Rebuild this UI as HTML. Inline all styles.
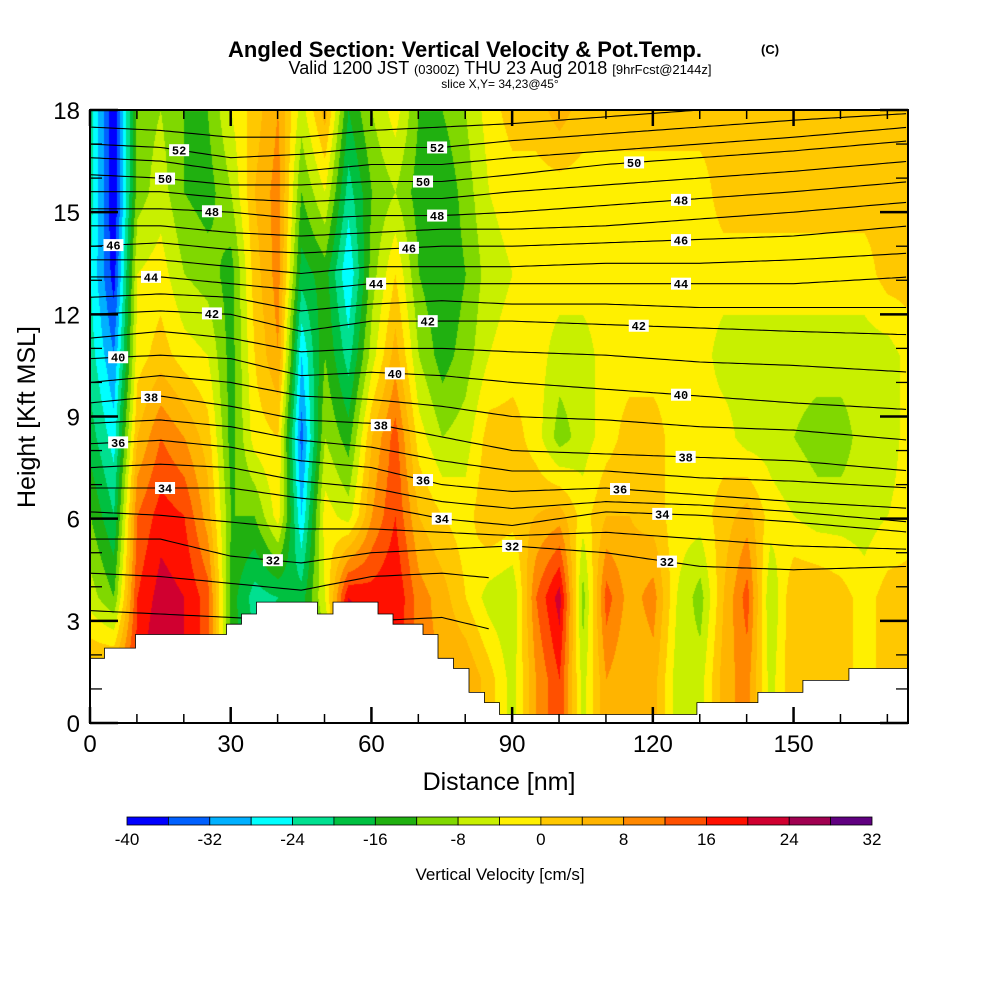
<!DOCTYPE html>
<html><head><meta charset="utf-8">
<style>
html,body{margin:0;padding:0;background:#fff;}
#wrap{position:relative;width:1000px;height:1000px;overflow:hidden;font-family:"Liberation Sans",sans-serif;}
canvas{position:absolute;left:90px;top:110px;}
svg{position:absolute;left:0;top:0;}
</style></head>
<body>
<div id="wrap">
<canvas id="cv" width="818" height="613"></canvas>
<svg id="sv" width="1000" height="1000"></svg>
</div>
<script>
// ---- data ----
const xCols = [0,5,10,15,20,25,30,35,40,45,50,55,60,65,70,75,80,85,90,95,100,105,110,115,120,125,130,135,140,145,150,155,160,165,170,175];
const rowHeights = [18,15.6,13.2,10.8,8.4,6.1,3.7,1.3];
const wRow18  = [-22,-40,-10,-8,-12,-12,-4,2,8,-6,6,-16,-8,-2,-12,-12,-8,-2,2,2,6,2,2,2,2,2,2,2,2,2,2,2,2,2,2,2];
const wRow156 = [-22,-40,-10,-6,-12,-14,-8,4,10,-12,-4,-22,-12,-8,-14,-16,-10,-4,-2,-2,-2,-2,-2,-2,-2,-2,-2,2,2,2,2,2,2,2,2,2];
const wRow132 = [-24,-38,-4,-2,-8,-10,-14,2,10,-18,-14,-28,-10,0,-12,-16,-12,-6,-4,-2,-2,-2,-2,-2,-2,-2,-2,-2,-2,-2,-2,-2,-2,-2,2,2];
const wRow108 = [-22,-32,-2,2,-2,-4,-14,0,8,-28,-12,-22,-6,6,-8,-14,-10,-4,-2,-2,-6,-6,-2,-2,-2,-2,-2,-6,-6,-6,-6,-6,-6,-6,-6,-2];
const wRow84  = [-18,-26,4,12,8,2,-14,-2,0,-34,-8,-14,4,14,-2,-8,-6,2,2,-2,-10,-6,-2,2,2,-2,-2,-2,-6,-6,-8,-10,-10,-6,-6,-2];
const wRow61  = [-12,-20,12,18,16,6,-12,-12,-2,-28,-2,-6,8,16,4,0,-2,4,2,4,6,-2,4,4,2,-2,-2,2,6,-2,-4,-6,-6,-6,-4,-2];
const wRow37  = [-6,-12,16,22,20,14,-14,-22,-20,-18,-4,20,18,20,10,6,0,-6,-8,12,22,-10,14,6,10,-4,-10,4,14,-8,4,4,2,-2,2,2];
const wRow13  = [6,8,18,26,20,14,-14,-18,-16,-14,-14,26,20,18,10,8,8,2,-6,8,16,-6,8,4,6,-6,-6,6,10,-6,4,2,2,-2,2,2];
const colorLevels = ["#0000ff","#0060ff","#00b0ff","#00ffff","#00e090","#00c040","#20b010","#80d800","#c8f000","#fff000","#ffc800","#ffb400","#ff8800","#ff5000","#ff1000","#d00030","#a00050","#600080"];
const cbTicks = [-40,-32,-24,-16,-8,0,8,16,24,32];
const terrainEdges = [0,3.1,9.7,29.1,32.3,35.5,48.5,51.8,61.4,64.6,71,74.2,77.5,80.8,84.1,87.3,129.4,142.4,152,161.8,175];
const terrainH = [1.9,2.2,2.6,2.9,3.2,3.55,3.2,3.55,3.2,2.9,2.6,1.9,1.6,0.9,0.6,0.25,0.6,0.9,1.25,1.6];
const thX = [0,15,30,45,60,75,90,110,130,150,175];
const th53 = [17.5,17.4,17.2,17.2,17.4,17.5,17.6,17.8,18.0,18.2,18.4];
const th52 = [17.0,16.9,16.6,16.7,16.9,16.9,17.1,17.3,17.5,17.7,17.9];
const th51 = [16.6,16.5,16.2,16.2,16.4,16.4,16.6,16.8,17.0,17.2,17.5];
const th50 = [16.1,16.0,15.8,15.8,15.9,15.9,16.1,16.4,16.6,16.8,17.1];
const th49 = [15.6,15.6,15.4,15.3,15.4,15.4,15.6,15.8,16.0,16.2,16.5];
const th48 = [15.1,15.1,15.0,14.8,14.9,14.9,15.0,15.2,15.4,15.6,15.9];
const th47 = [14.6,14.6,14.4,14.3,14.4,14.5,14.5,14.6,14.8,15.0,15.3];
const th46 = [14.0,14.1,13.9,13.8,13.9,14.0,14.0,14.1,14.2,14.3,14.6];
const th45 = [13.6,13.6,13.4,13.2,13.4,13.4,13.4,13.5,13.5,13.6,13.8];
const th44 = [13.1,13.1,12.9,12.7,12.9,12.9,12.9,12.9,12.9,12.9,13.1];
const th43 = [12.5,12.6,12.5,12.1,12.3,12.4,12.3,12.3,12.2,12.2,12.2];
const th42 = [12.0,12.1,12.0,11.5,11.8,11.8,11.8,11.7,11.6,11.5,11.4];
const th41 = [11.3,11.5,11.3,10.9,11.0,11.0,10.9,10.8,10.6,10.5,10.3];
const th40 = [10.7,10.8,10.7,10.2,10.3,10.2,10.0,9.8,9.6,9.4,9.2];
const th39 = [10.0,10.2,10.0,9.6,9.5,9.3,9.0,8.9,8.7,8.6,8.3];
const th38 = [9.4,9.6,9.3,8.9,8.8,8.4,8.0,7.9,7.8,7.7,7.4];
const th37 = [8.8,8.9,8.7,8.3,8.1,7.7,7.4,7.4,7.2,7.1,6.9];
const th36 = [8.2,8.3,8.1,7.7,7.5,7.0,6.8,6.9,6.7,6.5,6.3];
const th35 = [7.5,7.6,7.5,7.1,6.9,6.5,6.3,6.5,6.4,6.2,5.9];
const th34 = [6.9,6.9,6.9,6.6,6.4,6.0,5.8,6.2,6.1,5.9,5.6];
const th33 = [6.2,6.1,5.9,5.7,5.7,5.6,5.5,5.6,5.4,5.2,5.1];
const th32 = [5.4,5.4,4.9,4.7,5.0,5.1,5.2,5.0,4.6,4.5,4.6];
const th31 = [4.4,4.3,4.1,3.9,4.3,4.4,4.2,3.9,3.8,3.8,3.9];
const th30 = [3.3,3.2,3.1,3.0,3.0,3.1,2.6,2.2,2.4,2.6,2.8];
const thetaLevels = [53,52,51,50,49,48,47,46,45,44,43,42,41,40,39,38,37,36,35,34,33,32,31,30];
const thetaLines = [th53,th52,th51,th50,th49,th48,th47,th46,th45,th44,th43,th42,th41,th40,th39,th38,th37,th36,th35,th34,th33,th32,th31,th30];
const labelLevels = [52,50,48,46,44,42,40,38,36,34, 52,50,48,46,44,42,40,38,36,34,32,32, 50,48,46,44,42,40,38,36,34,32];
const labelXs     = [19,16,26,5,13,26,6,13,6,16, 74,71,74,68,61,72,65,62,71,75,39,90, 116,126,126,126,117,126,127,113,122,123];

// ---- axes ----
const PX0=90, PX1=908, PY0=110, PY1=723, XMAX=174.4, YMAX=18;
const sx = d => PX0 + d/XMAX*(PX1-PX0);
const sy = h => PY1 - h/YMAX*(PY1-PY0);
const rows = [wRow18,wRow156,wRow132,wRow108,wRow84,wRow61,wRow37,wRow13];

function interp(arrX, arrY, x){
  if(x<=arrX[0]) return arrY[0];
  for(let i=0;i<arrX.length-1;i++){
    if(x<=arrX[i+1]){const t=(x-arrX[i])/(arrX[i+1]-arrX[i]);return arrY[i]*(1-t)+arrY[i+1]*t;}
  }
  return arrY[arrY.length-1];
}
function field(d,h){
  let ci=Math.min(xCols.length-2,Math.max(0,Math.floor(d/5)));
  let tx=Math.min(1,Math.max(0,(d-xCols[ci])/(xCols[ci+1]-xCols[ci])));
  let ri=0;
  if(h>=rowHeights[0]) return rows[0][ci]*(1-tx)+rows[0][ci+1]*tx;
  if(h<=rowHeights[rowHeights.length-1]){const r=rows[rows.length-1];return r[ci]*(1-tx)+r[ci+1]*tx;}
  while(ri<rowHeights.length-1 && h<rowHeights[ri+1]) ri++;
  const ty=(rowHeights[ri]-h)/(rowHeights[ri]-rowHeights[ri+1]);
  const a=rows[ri][ci]*(1-tx)+rows[ri][ci+1]*tx;
  const b=rows[ri+1][ci]*(1-tx)+rows[ri+1][ci+1]*tx;
  return a*(1-ty)+b*ty;
}
function hex(c){return [parseInt(c.slice(1,3),16),parseInt(c.slice(3,5),16),parseInt(c.slice(5,7),16)];}
const rgb = colorLevels.map(hex);
(function(){
  const cv=document.getElementById('cv');const ctx=cv.getContext('2d');
  const W=cv.width,H=cv.height;const img=ctx.createImageData(W,H);
  for(let py=0;py<H;py++){
    const h=(H-py)/H*YMAX;
    for(let px=0;px<W;px++){
      const d=px/W*XMAX;
      const v=field(d,h);
      let k=Math.floor((v+40)/4);k=Math.max(0,Math.min(17,k));
      const c=rgb[k];const o=(py*W+px)*4;
      img.data[o]=c[0];img.data[o+1]=c[1];img.data[o+2]=c[2];img.data[o+3]=255;
    }
  }
  ctx.putImageData(img,0,0);
})();

const NS="http://www.w3.org/2000/svg";
const sv=document.getElementById('sv');
function mk(tag,attrs,parent){const e=document.createElementNS(NS,tag);for(const k in attrs)e.setAttribute(k,attrs[k]);(parent||sv).appendChild(e);return e;}

const defs=mk('defs',{});
const cp=mk('clipPath',{id:'pc'},defs);mk('rect',{x:PX0,y:PY0,width:PX1-PX0,height:PY1-PY0},cp);

// theta contours
const cg=mk('g',{'clip-path':'url(#pc)'});


thetaLines.forEach((arr,i)=>{
  let pts=[];
  const dMax = thetaLevels[i]<=31 ? 85 : XMAX;
  for(let d=0;d<=dMax;d+=1){pts.push(sx(d).toFixed(1)+','+sy(interp(thX,arr,d)).toFixed(1));}
  const pl=mk('polyline',{points:pts.join(' '),fill:'none',stroke:'#000','stroke-width':1.1},cg);
  
  
});

// terrain
let tp=[];
tp.push(sx(0)+','+sy(0));
for(let i=0;i<terrainH.length;i++){
  tp.push(sx(terrainEdges[i]).toFixed(1)+','+sy(terrainH[i]).toFixed(1));
  tp.push(sx(Math.min(terrainEdges[i+1],XMAX)).toFixed(1)+','+sy(terrainH[i]).toFixed(1));
}
tp.push(sx(XMAX)+','+sy(0));
const terr=mk('polygon',{points:tp.join(' '),fill:'#fff',stroke:'#000','stroke-width':0.8,'clip-path':'url(#pc)'});



// labels
labelLevels.forEach((lv,i)=>{
  const arr=thetaLines[thetaLevels.indexOf(lv)];
  const x=sx(labelXs[i]), y=sy(interp(thX,arr,labelXs[i]));
  const g=mk('g',{});
  
  
  mk('rect',{x:x-10,y:y-6,width:20,height:12,fill:'#fff'},g);
  const t=mk('text',{x:x,y:y+4.5,'text-anchor':'middle','font-size':12,'font-family':'Liberation Mono, monospace','font-weight':'bold'},g);
  t.textContent=lv;
});

const fr=mk('rect',{x:PX0,y:PY0,width:PX1-PX0,height:PY1-PY0,fill:'none',stroke:'#000','stroke-width':2});



// ticks
const tg=mk('g',{stroke:'#000'});


for(let d=0;d<=XMAX;d+=10){
  const L=(d%30===0)?16:9;
  mk('line',{x1:sx(d),y1:PY1,x2:sx(d),y2:PY1-L,'stroke-width':(d%30===0)?2.5:1.5},tg);
  mk('line',{x1:sx(d),y1:PY0,x2:sx(d),y2:PY0+L,'stroke-width':(d%30===0)?2.5:1.5},tg);
}
for(let h=0;h<=18;h+=1){
  const L=(h%3===0)?28:12;
  mk('line',{x1:PX0,y1:sy(h),x2:PX0+L,y2:sy(h),'stroke-width':(h%3===0)?2.5:1.3},tg);
  mk('line',{x1:PX1,y1:sy(h),x2:PX1-L,y2:sy(h),'stroke-width':(h%3===0)?2.5:1.3},tg);
}
const xTickLabels=[0,30,60,90,120,150];
xTickLabels.forEach(v=>{
  const t=mk('text',{x:sx(v),y:752,'text-anchor':'middle','font-size':24});
  t.textContent=v;
  
  
});
const yTickLabels=[0,3,6,9,12,15,18];
yTickLabels.forEach(v=>{
  const t=mk('text',{x:80,y:sy(v)+9,'text-anchor':'end','font-size':24});
  t.textContent=v;
  
  
});
let t;
t=mk('text',{x:499,y:790,'text-anchor':'middle','font-size':25});t.textContent='Distance [nm]';

t=mk('text',{x:35,y:417,'text-anchor':'middle','font-size':25,transform:'rotate(-90 35 417)'});t.textContent='Height [Kft MSL]';


// titles
t=mk('text',{x:465,y:57,'text-anchor':'middle','font-size':22,'font-weight':'bold'});t.textContent='Angled Section: Vertical Velocity & Pot.Temp.';

t=mk('text',{x:761,y:54,'text-anchor':'start','font-size':13,'font-weight':'bold'});t.textContent='(C)';

t=mk('text',{x:500,y:74,'text-anchor':'middle','font-size':18});

t.innerHTML='Valid 1200 JST <tspan font-size="13">(0300Z)</tspan> THU 23 Aug 2018 <tspan font-size="13">[9hrFcst@2144z]</tspan>';
t=mk('text',{x:500,y:88,'text-anchor':'middle','font-size':12});t.textContent='slice X,Y= 34,23@45°';


// colorbar
const CB0=127, CB1=872, CBY=817, CBH=8;
const cbw=(CB1-CB0)/colorLevels.length;
const cbg=mk('g',{});


colorLevels.forEach((c,i)=>{
  const r=mk('rect',{x:CB0+i*cbw,y:CBY,width:cbw,height:CBH,fill:c,stroke:'#000','stroke-width':0.8},cbg);
  
  
});
cbTicks.forEach(v=>{
  const tt=mk('text',{x:CB0+(v+40)/72*(CB1-CB0),y:845,'text-anchor':'middle','font-size':17},cbg);
  tt.textContent=v;
  
  
});
t=mk('text',{x:500,y:880,'text-anchor':'middle','font-size':17});t.textContent='Vertical Velocity [cm/s]';

</script>
</body></html>
